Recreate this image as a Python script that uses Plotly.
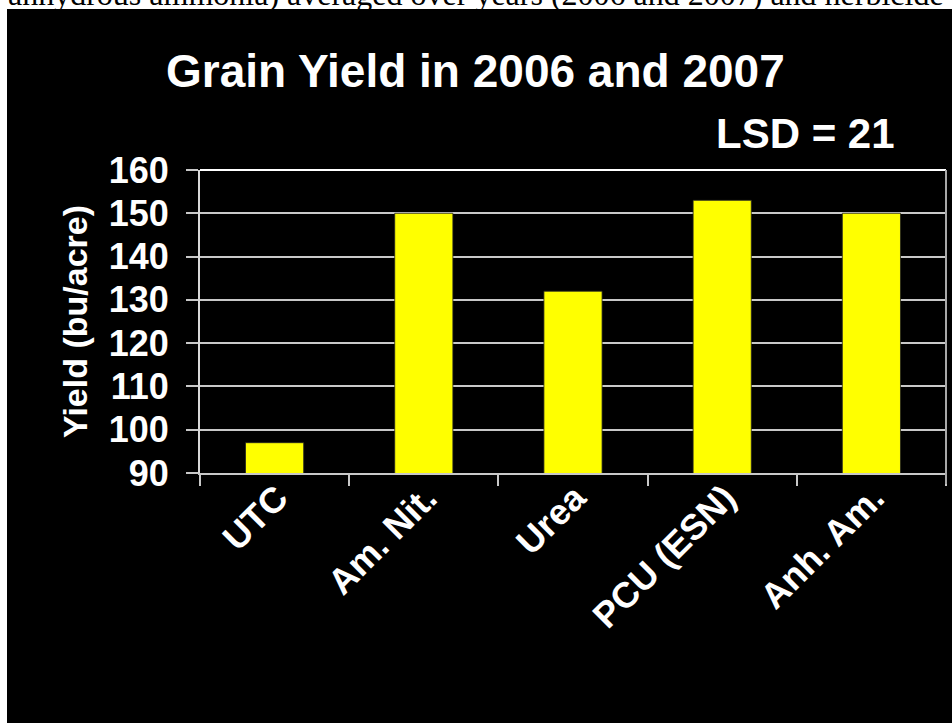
import plotly.graph_objects as go

categories = ["UTC", "Am. Nit.", "Urea", "PCU (ESN)", "Anh. Am."]
yield_values = [97, 150, 132, 153, 150]
y_ticks = [90, 100, 110, 120, 130, 140, 150, 160]

W, H = 952, 723
L, R, T, B = 200, 6, 170, 250
pw = W - L - R
ph = H - T - B


def px_x(x):
    return (x - L) / pw


def px_y(y):
    return (H - B - y) / ph


fig = go.Figure()
fig.add_trace(go.Bar(
    x=categories, y=yield_values,
    marker=dict(color="#FFFF00", line=dict(color="#222222", width=0.8)),
    width=0.39,
))

font_main = "Arial, Liberation Sans, sans-serif"

annotations = [
    dict(text="anhydrous ammonia) averaged over years (2006 and 2007) and herbicide",
         xref="paper", yref="paper", x=px_x(6), y=px_y(14),
         xanchor="left", yanchor="bottom", showarrow=False,
         font=dict(family="Liberation Serif, Times New Roman, serif", size=32, color="black")),
    dict(text="Grain Yield in 2006 and 2007",
         xref="paper", yref="paper", x=px_x(475), y=px_y(71),
         xanchor="center", yanchor="middle", showarrow=False,
         font=dict(family=font_main, size=46, color="white", weight="bold")),
    dict(text="LSD = 21",
         xref="paper", yref="paper", x=px_x(805), y=px_y(133),
         xanchor="center", yanchor="middle", showarrow=False,
         font=dict(family=font_main, size=42, color="white", weight="bold")),
    dict(text="Yield (bu/acre)",
         xref="paper", yref="paper", x=px_x(75), y=px_y(322),
         xanchor="center", yanchor="middle", showarrow=False, textangle=-90,
         font=dict(family=font_main, size=34, color="white", weight="bold")),
]
for cat in categories:
    annotations.append(dict(
        text=cat, xref="x", yref="paper", x=cat, y=px_y(474),
        xanchor="right", yanchor="top", xshift=24, showarrow=False, textangle=-45,
        font=dict(family=font_main, size=36, color="white", weight="bold"),
    ))

fig.update_layout(
    width=W, height=H,
    margin=dict(l=L, r=R, t=T, b=B, pad=0),
    paper_bgcolor="white",
    plot_bgcolor="black",
    showlegend=False,
    xaxis=dict(
        showgrid=False,
        showline=True, linecolor="#c8c8c8", linewidth=2,
        ticks="outside", tickson="boundaries", ticklen=11,
        tickcolor="#c8c8c8", tickwidth=2,
        showticklabels=False,
        range=[-0.5, 4.5],
    ),
    yaxis=dict(
        range=[90, 160],
        tickvals=y_ticks,
        showgrid=True, gridcolor="#c8c8c8", gridwidth=2,
        showline=True, linecolor="#d8d8d8", linewidth=2,
        ticks="outside", ticklen=12, tickcolor="#c8c8c8", tickwidth=2,
        tickfont=dict(family=font_main, size=36, color="white", weight="bold"),
        ticklabelstandoff=10,
        zeroline=False,
    ),
    shapes=[
        dict(type="rect", xref="paper", yref="paper",
             x0=px_x(7), x1=px_x(W + 2), y0=px_y(H + 2), y1=px_y(9),
             fillcolor="black", line=dict(width=0), layer="below"),
        dict(type="line", xref="paper", yref="paper",
             x0=0, x1=1, y0=1, y1=1, line=dict(color="white", width=2)),
        dict(type="line", xref="paper", yref="paper",
             x0=1, x1=1, y0=px_y(484), y1=1, line=dict(color="#a8a8a8", width=2)),
    ],
    annotations=annotations,
)

fig.write_html("out.html",
               config={"displayModeBar": False},
               post_script="document.body.style.margin='0';document.body.style.overflow='hidden';")
